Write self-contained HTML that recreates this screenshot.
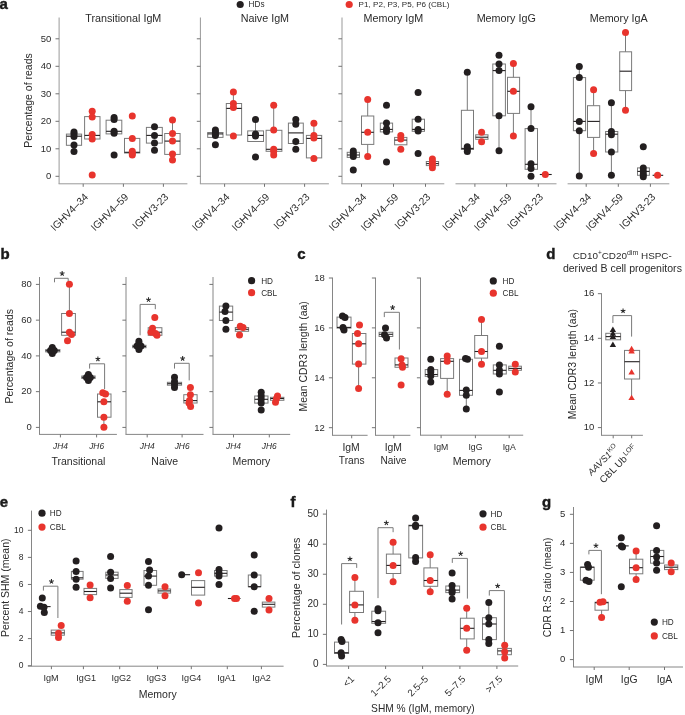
<!DOCTYPE html>
<html><head><meta charset="utf-8"><title>Figure</title>
<style>
html,body{margin:0;padding:0;background:#fff;}
body{width:685px;height:715px;overflow:hidden;}
svg{display:block;will-change:transform;}
text{font-family:"Liberation Sans", sans-serif;}
</style></head>
<body>
<svg width="685" height="715" viewBox="0 0 685 715" font-family='"Liberation Sans", sans-serif'>
<rect width="685" height="715" fill="#fff"/>
<text x="-0.6" y="8.8" font-size="15" font-weight="bold" fill="#1a1a1a" stroke="#1a1a1a" stroke-width="0.45">a</text>
<circle cx="240.2" cy="4.5" r="3.6" fill="#231f20"/>
<text x="248.60" y="7.30" font-size="8.2" text-anchor="start" fill="#2b2b2b">HDs</text>
<circle cx="349.2" cy="4.5" r="3.6" fill="#e8342d"/>
<text x="358.60" y="7.30" font-size="8.1" text-anchor="start" fill="#2b2b2b">P1, P2, P3, P5, P6 (CBL)</text>
<text x="123.30" y="21.80" font-size="10.75" text-anchor="middle" fill="#2b2b2b">Transitional IgM</text>
<text x="264.90" y="21.80" font-size="10.75" text-anchor="middle" fill="#2b2b2b">Naive IgM</text>
<text x="393.40" y="21.80" font-size="10.75" text-anchor="middle" fill="#2b2b2b">Memory IgM</text>
<text x="506.20" y="21.80" font-size="10.75" text-anchor="middle" fill="#2b2b2b">Memory IgG</text>
<text x="618.70" y="21.80" font-size="10.75" text-anchor="middle" fill="#2b2b2b">Memory IgA</text>
<line x1="59.10" y1="17.50" x2="59.10" y2="183.80" stroke="#999" stroke-width="1"/>
<line x1="55.50" y1="176.30" x2="59.10" y2="176.30" stroke="#737373" stroke-width="1"/>
<text x="51.40" y="179.10" font-size="9.5" text-anchor="end" fill="#2b2b2b">0</text>
<line x1="55.50" y1="148.80" x2="59.10" y2="148.80" stroke="#737373" stroke-width="1"/>
<text x="51.40" y="151.60" font-size="9.5" text-anchor="end" fill="#2b2b2b">10</text>
<line x1="55.50" y1="121.30" x2="59.10" y2="121.30" stroke="#737373" stroke-width="1"/>
<text x="51.40" y="124.10" font-size="9.5" text-anchor="end" fill="#2b2b2b">20</text>
<line x1="55.50" y1="93.80" x2="59.10" y2="93.80" stroke="#737373" stroke-width="1"/>
<text x="51.40" y="96.60" font-size="9.5" text-anchor="end" fill="#2b2b2b">30</text>
<line x1="55.50" y1="66.30" x2="59.10" y2="66.30" stroke="#737373" stroke-width="1"/>
<text x="51.40" y="69.10" font-size="9.5" text-anchor="end" fill="#2b2b2b">40</text>
<line x1="55.50" y1="38.80" x2="59.10" y2="38.80" stroke="#737373" stroke-width="1"/>
<text x="51.40" y="41.60" font-size="9.5" text-anchor="end" fill="#2b2b2b">50</text>
<line x1="200.40" y1="17.50" x2="200.40" y2="183.80" stroke="#999" stroke-width="1"/>
<line x1="196.80" y1="176.30" x2="200.40" y2="176.30" stroke="#737373" stroke-width="1"/>
<line x1="196.80" y1="148.80" x2="200.40" y2="148.80" stroke="#737373" stroke-width="1"/>
<line x1="196.80" y1="121.30" x2="200.40" y2="121.30" stroke="#737373" stroke-width="1"/>
<line x1="196.80" y1="93.80" x2="200.40" y2="93.80" stroke="#737373" stroke-width="1"/>
<line x1="196.80" y1="66.30" x2="200.40" y2="66.30" stroke="#737373" stroke-width="1"/>
<line x1="196.80" y1="38.80" x2="200.40" y2="38.80" stroke="#737373" stroke-width="1"/>
<line x1="342.00" y1="17.50" x2="342.00" y2="183.80" stroke="#999" stroke-width="1"/>
<line x1="338.40" y1="176.30" x2="342.00" y2="176.30" stroke="#737373" stroke-width="1"/>
<line x1="338.40" y1="148.80" x2="342.00" y2="148.80" stroke="#737373" stroke-width="1"/>
<line x1="338.40" y1="121.30" x2="342.00" y2="121.30" stroke="#737373" stroke-width="1"/>
<line x1="338.40" y1="93.80" x2="342.00" y2="93.80" stroke="#737373" stroke-width="1"/>
<line x1="338.40" y1="66.30" x2="342.00" y2="66.30" stroke="#737373" stroke-width="1"/>
<line x1="338.40" y1="38.80" x2="342.00" y2="38.80" stroke="#737373" stroke-width="1"/>
<text x="32.20" y="100.50" font-size="10.5" text-anchor="middle" transform="rotate(-90 32.20 100.50)" fill="#2b2b2b">Percentage of reads</text>
<line x1="58.60" y1="183.80" x2="187.40" y2="183.80" stroke="#999" stroke-width="1"/>
<line x1="83.20" y1="183.80" x2="83.20" y2="186.80" stroke="#737373" stroke-width="1"/>
<line x1="123.40" y1="183.80" x2="123.40" y2="186.80" stroke="#737373" stroke-width="1"/>
<line x1="163.40" y1="183.80" x2="163.40" y2="186.80" stroke="#737373" stroke-width="1"/>
<line x1="199.90" y1="183.80" x2="328.90" y2="183.80" stroke="#999" stroke-width="1"/>
<line x1="224.60" y1="183.80" x2="224.60" y2="186.80" stroke="#737373" stroke-width="1"/>
<line x1="264.50" y1="183.80" x2="264.50" y2="186.80" stroke="#737373" stroke-width="1"/>
<line x1="304.60" y1="183.80" x2="304.60" y2="186.80" stroke="#737373" stroke-width="1"/>
<line x1="341.50" y1="183.80" x2="444.30" y2="183.80" stroke="#999" stroke-width="1"/>
<line x1="361.50" y1="183.80" x2="361.50" y2="186.80" stroke="#737373" stroke-width="1"/>
<line x1="393.50" y1="183.80" x2="393.50" y2="186.80" stroke="#737373" stroke-width="1"/>
<line x1="425.50" y1="183.80" x2="425.50" y2="186.80" stroke="#737373" stroke-width="1"/>
<line x1="455.50" y1="183.80" x2="556.50" y2="183.80" stroke="#999" stroke-width="1"/>
<line x1="474.90" y1="183.80" x2="474.90" y2="186.80" stroke="#737373" stroke-width="1"/>
<line x1="506.60" y1="183.80" x2="506.60" y2="186.80" stroke="#737373" stroke-width="1"/>
<line x1="538.30" y1="183.80" x2="538.30" y2="186.80" stroke="#737373" stroke-width="1"/>
<line x1="567.60" y1="183.80" x2="669.30" y2="183.80" stroke="#999" stroke-width="1"/>
<line x1="586.20" y1="183.80" x2="586.20" y2="186.80" stroke="#737373" stroke-width="1"/>
<line x1="618.30" y1="183.80" x2="618.30" y2="186.80" stroke="#737373" stroke-width="1"/>
<line x1="650.40" y1="183.80" x2="650.40" y2="186.80" stroke="#737373" stroke-width="1"/>
<rect x="66.40" y="134.10" width="15.20" height="11.20" fill="none" stroke="#7a7a7a" stroke-width="1"/>
<line x1="66.40" y1="136.20" x2="81.60" y2="136.20" stroke="#231f20" stroke-width="1.1"/>
<circle cx="74.00" cy="131.90" r="3.5" fill="#231f20"/>
<circle cx="74.00" cy="134.00" r="3.5" fill="#231f20"/>
<circle cx="74.00" cy="136.50" r="3.5" fill="#231f20"/>
<circle cx="74.00" cy="145.00" r="3.5" fill="#231f20"/>
<circle cx="74.00" cy="151.60" r="3.5" fill="#231f20"/>
<rect x="84.60" y="116.60" width="15.40" height="22.40" fill="none" stroke="#7a7a7a" stroke-width="1"/>
<line x1="84.60" y1="135.40" x2="100.00" y2="135.40" stroke="#231f20" stroke-width="1.1"/>
<circle cx="92.20" cy="111.30" r="3.5" fill="#e8342d"/>
<circle cx="92.20" cy="117.00" r="3.5" fill="#e8342d"/>
<circle cx="92.20" cy="134.60" r="3.5" fill="#e8342d"/>
<circle cx="92.20" cy="139.00" r="3.5" fill="#e8342d"/>
<circle cx="92.20" cy="174.90" r="3.5" fill="#e8342d"/>
<rect x="106.10" y="120.20" width="15.70" height="13.70" fill="none" stroke="#7a7a7a" stroke-width="1"/>
<line x1="106.10" y1="131.30" x2="121.80" y2="131.30" stroke="#231f20" stroke-width="1.1"/>
<circle cx="114.10" cy="117.60" r="3.5" fill="#231f20"/>
<circle cx="114.10" cy="119.60" r="3.5" fill="#231f20"/>
<circle cx="114.10" cy="131.30" r="3.5" fill="#231f20"/>
<circle cx="114.10" cy="133.30" r="3.5" fill="#231f20"/>
<circle cx="114.10" cy="155.00" r="3.5" fill="#231f20"/>
<rect x="124.50" y="138.40" width="15.30" height="14.60" fill="none" stroke="#7a7a7a" stroke-width="1"/>
<line x1="124.50" y1="152.30" x2="139.80" y2="152.30" stroke="#231f20" stroke-width="1.1"/>
<circle cx="132.30" cy="116.00" r="3.5" fill="#e8342d"/>
<circle cx="132.30" cy="138.40" r="3.5" fill="#e8342d"/>
<circle cx="132.30" cy="151.30" r="3.5" fill="#e8342d"/>
<circle cx="132.30" cy="153.50" r="3.5" fill="#e8342d"/>
<circle cx="132.30" cy="155.00" r="3.5" fill="#e8342d"/>
<rect x="146.40" y="127.40" width="15.90" height="15.70" fill="none" stroke="#7a7a7a" stroke-width="1"/>
<line x1="146.40" y1="135.40" x2="162.30" y2="135.40" stroke="#231f20" stroke-width="1.1"/>
<circle cx="154.50" cy="126.80" r="3.5" fill="#231f20"/>
<circle cx="154.50" cy="135.40" r="3.5" fill="#231f20"/>
<circle cx="154.50" cy="143.10" r="3.5" fill="#231f20"/>
<circle cx="154.50" cy="150.30" r="3.5" fill="#231f20"/>
<line x1="172.50" y1="120.00" x2="172.50" y2="133.50" stroke="#7a7a7a" stroke-width="1"/>
<rect x="164.70" y="133.50" width="15.40" height="20.90" fill="none" stroke="#7a7a7a" stroke-width="1"/>
<line x1="164.70" y1="141.10" x2="180.10" y2="141.10" stroke="#231f20" stroke-width="1.1"/>
<circle cx="172.50" cy="120.00" r="3.5" fill="#e8342d"/>
<circle cx="172.50" cy="133.50" r="3.5" fill="#e8342d"/>
<circle cx="172.50" cy="141.10" r="3.5" fill="#e8342d"/>
<circle cx="172.50" cy="154.00" r="3.5" fill="#e8342d"/>
<circle cx="172.50" cy="160.10" r="3.5" fill="#e8342d"/>
<rect x="207.70" y="132.50" width="15.30" height="4.90" fill="none" stroke="#7a7a7a" stroke-width="1"/>
<line x1="207.70" y1="133.90" x2="223.00" y2="133.90" stroke="#231f20" stroke-width="1.1"/>
<circle cx="215.40" cy="129.90" r="3.5" fill="#231f20"/>
<circle cx="215.40" cy="131.90" r="3.5" fill="#231f20"/>
<circle cx="215.40" cy="133.90" r="3.5" fill="#231f20"/>
<circle cx="215.40" cy="135.40" r="3.5" fill="#231f20"/>
<circle cx="215.40" cy="144.80" r="3.5" fill="#231f20"/>
<line x1="233.40" y1="92.00" x2="233.40" y2="103.50" stroke="#7a7a7a" stroke-width="1"/>
<rect x="226.30" y="103.50" width="15.30" height="31.50" fill="none" stroke="#7a7a7a" stroke-width="1"/>
<line x1="226.30" y1="108.40" x2="241.60" y2="108.40" stroke="#231f20" stroke-width="1.1"/>
<circle cx="233.40" cy="92.00" r="3.5" fill="#e8342d"/>
<circle cx="233.40" cy="103.50" r="3.5" fill="#e8342d"/>
<circle cx="233.40" cy="107.40" r="3.5" fill="#e8342d"/>
<circle cx="233.40" cy="136.00" r="3.5" fill="#e8342d"/>
<line x1="255.50" y1="119.60" x2="255.50" y2="130.90" stroke="#7a7a7a" stroke-width="1"/>
<rect x="247.70" y="130.90" width="15.80" height="10.60" fill="none" stroke="#7a7a7a" stroke-width="1"/>
<line x1="247.70" y1="135.40" x2="263.50" y2="135.40" stroke="#231f20" stroke-width="1.1"/>
<circle cx="255.50" cy="119.60" r="3.5" fill="#231f20"/>
<circle cx="255.50" cy="133.90" r="3.5" fill="#231f20"/>
<circle cx="255.50" cy="136.00" r="3.5" fill="#231f20"/>
<circle cx="255.50" cy="157.00" r="3.5" fill="#231f20"/>
<line x1="273.70" y1="105.30" x2="273.70" y2="130.30" stroke="#7a7a7a" stroke-width="1"/>
<rect x="266.10" y="130.30" width="15.80" height="21.00" fill="none" stroke="#7a7a7a" stroke-width="1"/>
<line x1="266.10" y1="149.30" x2="281.90" y2="149.30" stroke="#231f20" stroke-width="1.1"/>
<circle cx="273.70" cy="105.30" r="3.5" fill="#e8342d"/>
<circle cx="273.70" cy="129.90" r="3.5" fill="#e8342d"/>
<circle cx="273.70" cy="149.30" r="3.5" fill="#e8342d"/>
<circle cx="273.70" cy="151.30" r="3.5" fill="#e8342d"/>
<circle cx="273.70" cy="155.00" r="3.5" fill="#e8342d"/>
<rect x="288.40" y="123.10" width="14.90" height="20.40" fill="none" stroke="#7a7a7a" stroke-width="1"/>
<line x1="288.40" y1="132.90" x2="303.30" y2="132.90" stroke="#231f20" stroke-width="1.1"/>
<circle cx="295.80" cy="119.60" r="3.5" fill="#231f20"/>
<circle cx="295.80" cy="124.30" r="3.5" fill="#231f20"/>
<circle cx="295.80" cy="141.50" r="3.5" fill="#231f20"/>
<circle cx="295.80" cy="149.30" r="3.5" fill="#231f20"/>
<line x1="313.90" y1="123.30" x2="313.90" y2="135.40" stroke="#7a7a7a" stroke-width="1"/>
<rect x="306.40" y="135.40" width="15.30" height="22.50" fill="none" stroke="#7a7a7a" stroke-width="1"/>
<line x1="306.40" y1="138.40" x2="321.70" y2="138.40" stroke="#231f20" stroke-width="1.1"/>
<circle cx="313.90" cy="123.30" r="3.5" fill="#e8342d"/>
<circle cx="313.90" cy="135.40" r="3.5" fill="#e8342d"/>
<circle cx="313.90" cy="138.00" r="3.5" fill="#e8342d"/>
<circle cx="313.90" cy="158.50" r="3.5" fill="#e8342d"/>
<rect x="347.20" y="152.30" width="12.30" height="5.10" fill="none" stroke="#7a7a7a" stroke-width="1"/>
<line x1="347.20" y1="155.00" x2="359.50" y2="155.00" stroke="#231f20" stroke-width="1.1"/>
<circle cx="353.30" cy="150.90" r="3.5" fill="#231f20"/>
<circle cx="353.30" cy="153.40" r="3.5" fill="#231f20"/>
<circle cx="353.30" cy="156.40" r="3.5" fill="#231f20"/>
<circle cx="353.30" cy="170.10" r="3.5" fill="#231f20"/>
<line x1="367.70" y1="99.60" x2="367.70" y2="116.00" stroke="#7a7a7a" stroke-width="1"/>
<line x1="367.70" y1="144.40" x2="367.70" y2="157.40" stroke="#7a7a7a" stroke-width="1"/>
<rect x="361.50" y="116.00" width="12.30" height="28.40" fill="none" stroke="#7a7a7a" stroke-width="1"/>
<line x1="361.50" y1="132.30" x2="373.80" y2="132.30" stroke="#231f20" stroke-width="1.1"/>
<circle cx="367.70" cy="99.60" r="3.5" fill="#e8342d"/>
<circle cx="367.70" cy="132.30" r="3.5" fill="#e8342d"/>
<circle cx="367.70" cy="156.40" r="3.5" fill="#e8342d"/>
<rect x="380.30" y="123.10" width="12.30" height="8.80" fill="none" stroke="#7a7a7a" stroke-width="1"/>
<line x1="380.30" y1="129.40" x2="392.60" y2="129.40" stroke="#231f20" stroke-width="1.1"/>
<circle cx="386.50" cy="105.30" r="3.5" fill="#231f20"/>
<circle cx="386.50" cy="123.10" r="3.5" fill="#231f20"/>
<circle cx="386.50" cy="128.80" r="3.5" fill="#231f20"/>
<circle cx="386.50" cy="131.50" r="3.5" fill="#231f20"/>
<circle cx="386.50" cy="161.90" r="3.5" fill="#231f20"/>
<rect x="394.60" y="137.40" width="12.30" height="7.40" fill="none" stroke="#7a7a7a" stroke-width="1"/>
<line x1="394.60" y1="140.10" x2="406.90" y2="140.10" stroke="#231f20" stroke-width="1.1"/>
<circle cx="400.80" cy="135.40" r="3.5" fill="#e8342d"/>
<circle cx="400.80" cy="139.00" r="3.5" fill="#e8342d"/>
<circle cx="400.80" cy="149.30" r="3.5" fill="#e8342d"/>
<rect x="412.20" y="119.20" width="12.30" height="12.10" fill="none" stroke="#7a7a7a" stroke-width="1"/>
<line x1="412.20" y1="129.40" x2="424.50" y2="129.40" stroke="#231f20" stroke-width="1.1"/>
<circle cx="418.10" cy="92.50" r="3.5" fill="#231f20"/>
<circle cx="418.10" cy="119.20" r="3.5" fill="#231f20"/>
<circle cx="418.10" cy="129.40" r="3.5" fill="#231f20"/>
<circle cx="418.10" cy="130.90" r="3.5" fill="#231f20"/>
<circle cx="418.10" cy="153.40" r="3.5" fill="#231f20"/>
<rect x="426.30" y="161.50" width="12.30" height="4.10" fill="none" stroke="#7a7a7a" stroke-width="1"/>
<line x1="426.30" y1="163.60" x2="438.60" y2="163.60" stroke="#231f20" stroke-width="1.1"/>
<circle cx="432.40" cy="159.10" r="3.5" fill="#e8342d"/>
<circle cx="432.40" cy="161.90" r="3.5" fill="#e8342d"/>
<circle cx="432.40" cy="164.60" r="3.5" fill="#e8342d"/>
<circle cx="432.40" cy="167.70" r="3.5" fill="#e8342d"/>
<line x1="467.30" y1="72.30" x2="467.30" y2="110.30" stroke="#7a7a7a" stroke-width="1"/>
<rect x="461.40" y="110.30" width="12.10" height="39.20" fill="none" stroke="#7a7a7a" stroke-width="1"/>
<line x1="461.40" y1="148.40" x2="473.50" y2="148.40" stroke="#231f20" stroke-width="1.1"/>
<circle cx="467.30" cy="72.30" r="3.5" fill="#231f20"/>
<circle cx="467.30" cy="146.70" r="3.5" fill="#231f20"/>
<circle cx="467.30" cy="149.10" r="3.5" fill="#231f20"/>
<circle cx="467.30" cy="151.40" r="3.5" fill="#231f20"/>
<rect x="475.70" y="134.80" width="12.30" height="4.50" fill="none" stroke="#7a7a7a" stroke-width="1"/>
<line x1="475.70" y1="137.20" x2="488.00" y2="137.20" stroke="#231f20" stroke-width="1.1"/>
<circle cx="481.60" cy="132.20" r="3.5" fill="#e8342d"/>
<circle cx="481.60" cy="141.70" r="3.5" fill="#e8342d"/>
<line x1="499.00" y1="115.80" x2="499.00" y2="150.70" stroke="#7a7a7a" stroke-width="1"/>
<rect x="492.80" y="64.00" width="12.60" height="51.80" fill="none" stroke="#7a7a7a" stroke-width="1"/>
<line x1="492.80" y1="70.60" x2="505.40" y2="70.60" stroke="#231f20" stroke-width="1.1"/>
<circle cx="499.00" cy="55.20" r="3.5" fill="#231f20"/>
<circle cx="499.00" cy="64.00" r="3.5" fill="#231f20"/>
<circle cx="499.00" cy="70.60" r="3.5" fill="#231f20"/>
<circle cx="499.00" cy="115.80" r="3.5" fill="#231f20"/>
<circle cx="499.00" cy="150.70" r="3.5" fill="#231f20"/>
<line x1="513.40" y1="63.50" x2="513.40" y2="77.30" stroke="#7a7a7a" stroke-width="1"/>
<line x1="513.40" y1="113.40" x2="513.40" y2="136.00" stroke="#7a7a7a" stroke-width="1"/>
<rect x="507.50" y="77.30" width="12.10" height="36.10" fill="none" stroke="#7a7a7a" stroke-width="1"/>
<line x1="507.50" y1="91.30" x2="519.60" y2="91.30" stroke="#231f20" stroke-width="1.1"/>
<circle cx="513.40" cy="63.50" r="3.5" fill="#e8342d"/>
<circle cx="513.40" cy="91.30" r="3.5" fill="#e8342d"/>
<circle cx="513.40" cy="136.00" r="3.5" fill="#e8342d"/>
<line x1="531.00" y1="106.80" x2="531.00" y2="128.60" stroke="#7a7a7a" stroke-width="1"/>
<rect x="525.10" y="128.60" width="12.40" height="40.70" fill="none" stroke="#7a7a7a" stroke-width="1"/>
<line x1="525.10" y1="164.30" x2="537.50" y2="164.30" stroke="#231f20" stroke-width="1.1"/>
<circle cx="531.00" cy="106.80" r="3.5" fill="#231f20"/>
<circle cx="531.00" cy="128.60" r="3.5" fill="#231f20"/>
<circle cx="531.00" cy="163.80" r="3.5" fill="#231f20"/>
<circle cx="531.00" cy="168.60" r="3.5" fill="#231f20"/>
<circle cx="531.00" cy="176.20" r="3.5" fill="#231f20"/>
<line x1="539.80" y1="174.50" x2="551.70" y2="174.50" stroke="#231f20" stroke-width="1.1"/>
<circle cx="545.30" cy="174.50" r="3.5" fill="#e8342d"/>
<line x1="579.30" y1="66.40" x2="579.30" y2="77.60" stroke="#7a7a7a" stroke-width="1"/>
<line x1="579.30" y1="130.70" x2="579.30" y2="175.90" stroke="#7a7a7a" stroke-width="1"/>
<rect x="573.40" y="77.60" width="12.20" height="53.10" fill="none" stroke="#7a7a7a" stroke-width="1"/>
<line x1="573.40" y1="121.40" x2="585.60" y2="121.40" stroke="#231f20" stroke-width="1.1"/>
<circle cx="579.30" cy="66.40" r="3.5" fill="#231f20"/>
<circle cx="579.30" cy="77.60" r="3.5" fill="#231f20"/>
<circle cx="579.30" cy="121.40" r="3.5" fill="#231f20"/>
<circle cx="579.30" cy="130.70" r="3.5" fill="#231f20"/>
<circle cx="579.30" cy="175.90" r="3.5" fill="#231f20"/>
<line x1="593.60" y1="89.80" x2="593.60" y2="105.70" stroke="#7a7a7a" stroke-width="1"/>
<line x1="593.60" y1="137.40" x2="593.60" y2="153.60" stroke="#7a7a7a" stroke-width="1"/>
<rect x="587.50" y="105.70" width="12.20" height="31.70" fill="none" stroke="#7a7a7a" stroke-width="1"/>
<line x1="587.50" y1="121.40" x2="599.70" y2="121.40" stroke="#231f20" stroke-width="1.1"/>
<circle cx="593.60" cy="89.80" r="3.5" fill="#e8342d"/>
<circle cx="593.60" cy="153.60" r="3.5" fill="#e8342d"/>
<line x1="611.40" y1="102.80" x2="611.40" y2="131.50" stroke="#7a7a7a" stroke-width="1"/>
<line x1="611.40" y1="152.00" x2="611.40" y2="175.30" stroke="#7a7a7a" stroke-width="1"/>
<rect x="605.60" y="131.50" width="12.20" height="20.50" fill="none" stroke="#7a7a7a" stroke-width="1"/>
<line x1="605.60" y1="134.20" x2="617.80" y2="134.20" stroke="#231f20" stroke-width="1.1"/>
<circle cx="611.40" cy="102.80" r="3.5" fill="#231f20"/>
<circle cx="611.40" cy="131.50" r="3.5" fill="#231f20"/>
<circle cx="611.40" cy="134.70" r="3.5" fill="#231f20"/>
<circle cx="611.40" cy="152.00" r="3.5" fill="#231f20"/>
<circle cx="611.40" cy="175.30" r="3.5" fill="#231f20"/>
<line x1="625.50" y1="32.40" x2="625.50" y2="51.80" stroke="#7a7a7a" stroke-width="1"/>
<line x1="625.50" y1="90.60" x2="625.50" y2="110.30" stroke="#7a7a7a" stroke-width="1"/>
<rect x="619.70" y="51.80" width="11.90" height="38.80" fill="none" stroke="#7a7a7a" stroke-width="1"/>
<line x1="619.70" y1="71.20" x2="631.60" y2="71.20" stroke="#231f20" stroke-width="1.1"/>
<circle cx="625.50" cy="32.40" r="3.5" fill="#e8342d"/>
<circle cx="625.50" cy="110.30" r="3.5" fill="#e8342d"/>
<rect x="637.50" y="167.90" width="11.90" height="7.40" fill="none" stroke="#7a7a7a" stroke-width="1"/>
<line x1="637.50" y1="171.40" x2="649.40" y2="171.40" stroke="#231f20" stroke-width="1.1"/>
<circle cx="643.30" cy="146.70" r="3.5" fill="#231f20"/>
<circle cx="643.30" cy="167.90" r="3.5" fill="#231f20"/>
<circle cx="643.30" cy="171.40" r="3.5" fill="#231f20"/>
<circle cx="643.30" cy="174.50" r="3.5" fill="#231f20"/>
<circle cx="643.30" cy="176.70" r="3.5" fill="#231f20"/>
<line x1="652.60" y1="175.30" x2="663.20" y2="175.30" stroke="#231f20" stroke-width="1.1"/>
<circle cx="657.60" cy="175.30" r="3.5" fill="#e8342d"/>
<text x="88.80" y="197.60" font-size="10.3" text-anchor="end" transform="rotate(-45 88.80 197.60)" fill="#2b2b2b">IGHV4–34</text>
<text x="129.00" y="197.60" font-size="10.3" text-anchor="end" transform="rotate(-45 129.00 197.60)" fill="#2b2b2b">IGHV4–59</text>
<text x="169.00" y="197.60" font-size="10.3" text-anchor="end" transform="rotate(-45 169.00 197.60)" fill="#2b2b2b">IGHV3-23</text>
<text x="230.20" y="197.60" font-size="10.3" text-anchor="end" transform="rotate(-45 230.20 197.60)" fill="#2b2b2b">IGHV4–34</text>
<text x="270.10" y="197.60" font-size="10.3" text-anchor="end" transform="rotate(-45 270.10 197.60)" fill="#2b2b2b">IGHV4–59</text>
<text x="310.20" y="197.60" font-size="10.3" text-anchor="end" transform="rotate(-45 310.20 197.60)" fill="#2b2b2b">IGHV3-23</text>
<text x="367.10" y="197.60" font-size="10.3" text-anchor="end" transform="rotate(-45 367.10 197.60)" fill="#2b2b2b">IGHV4–34</text>
<text x="399.10" y="197.60" font-size="10.3" text-anchor="end" transform="rotate(-45 399.10 197.60)" fill="#2b2b2b">IGHV4–59</text>
<text x="431.10" y="197.60" font-size="10.3" text-anchor="end" transform="rotate(-45 431.10 197.60)" fill="#2b2b2b">IGHV3-23</text>
<text x="480.50" y="197.60" font-size="10.3" text-anchor="end" transform="rotate(-45 480.50 197.60)" fill="#2b2b2b">IGHV4–34</text>
<text x="512.20" y="197.60" font-size="10.3" text-anchor="end" transform="rotate(-45 512.20 197.60)" fill="#2b2b2b">IGHV4–59</text>
<text x="543.90" y="197.60" font-size="10.3" text-anchor="end" transform="rotate(-45 543.90 197.60)" fill="#2b2b2b">IGHV3-23</text>
<text x="591.80" y="197.60" font-size="10.3" text-anchor="end" transform="rotate(-45 591.80 197.60)" fill="#2b2b2b">IGHV4–34</text>
<text x="623.90" y="197.60" font-size="10.3" text-anchor="end" transform="rotate(-45 623.90 197.60)" fill="#2b2b2b">IGHV4–59</text>
<text x="656.00" y="197.60" font-size="10.3" text-anchor="end" transform="rotate(-45 656.00 197.60)" fill="#2b2b2b">IGHV3-23</text>
<text x="0.4" y="258.6" font-size="15" font-weight="bold" fill="#1a1a1a" stroke="#1a1a1a" stroke-width="0.45">b</text>
<line x1="39.50" y1="277.00" x2="39.50" y2="434.40" stroke="#868686" stroke-width="1"/>
<line x1="35.90" y1="427.40" x2="39.50" y2="427.40" stroke="#737373" stroke-width="1"/>
<text x="31.80" y="430.20" font-size="9.5" text-anchor="end" fill="#2b2b2b">0</text>
<line x1="35.90" y1="391.65" x2="39.50" y2="391.65" stroke="#737373" stroke-width="1"/>
<text x="31.80" y="394.45" font-size="9.5" text-anchor="end" fill="#2b2b2b">20</text>
<line x1="35.90" y1="355.90" x2="39.50" y2="355.90" stroke="#737373" stroke-width="1"/>
<text x="31.80" y="358.70" font-size="9.5" text-anchor="end" fill="#2b2b2b">40</text>
<line x1="35.90" y1="320.15" x2="39.50" y2="320.15" stroke="#737373" stroke-width="1"/>
<text x="31.80" y="322.95" font-size="9.5" text-anchor="end" fill="#2b2b2b">60</text>
<line x1="35.90" y1="284.40" x2="39.50" y2="284.40" stroke="#737373" stroke-width="1"/>
<text x="31.80" y="287.20" font-size="9.5" text-anchor="end" fill="#2b2b2b">80</text>
<line x1="126.00" y1="277.00" x2="126.00" y2="434.40" stroke="#868686" stroke-width="1"/>
<line x1="122.40" y1="427.40" x2="126.00" y2="427.40" stroke="#737373" stroke-width="1"/>
<line x1="122.40" y1="391.65" x2="126.00" y2="391.65" stroke="#737373" stroke-width="1"/>
<line x1="122.40" y1="355.90" x2="126.00" y2="355.90" stroke="#737373" stroke-width="1"/>
<line x1="122.40" y1="320.15" x2="126.00" y2="320.15" stroke="#737373" stroke-width="1"/>
<line x1="122.40" y1="284.40" x2="126.00" y2="284.40" stroke="#737373" stroke-width="1"/>
<line x1="213.00" y1="277.00" x2="213.00" y2="434.40" stroke="#868686" stroke-width="1"/>
<line x1="209.40" y1="427.40" x2="213.00" y2="427.40" stroke="#737373" stroke-width="1"/>
<line x1="209.40" y1="391.65" x2="213.00" y2="391.65" stroke="#737373" stroke-width="1"/>
<line x1="209.40" y1="355.90" x2="213.00" y2="355.90" stroke="#737373" stroke-width="1"/>
<line x1="209.40" y1="320.15" x2="213.00" y2="320.15" stroke="#737373" stroke-width="1"/>
<line x1="209.40" y1="284.40" x2="213.00" y2="284.40" stroke="#737373" stroke-width="1"/>
<text x="12.60" y="356.30" font-size="10.5" text-anchor="middle" transform="rotate(-90 12.60 356.30)" fill="#2b2b2b">Percentage of reads</text>
<line x1="39.00" y1="434.40" x2="116.90" y2="434.40" stroke="#868686" stroke-width="1"/>
<line x1="60.40" y1="434.40" x2="60.40" y2="437.40" stroke="#737373" stroke-width="1"/>
<line x1="96.60" y1="434.40" x2="96.60" y2="437.40" stroke="#737373" stroke-width="1"/>
<line x1="125.50" y1="434.40" x2="203.50" y2="434.40" stroke="#868686" stroke-width="1"/>
<line x1="147.20" y1="434.40" x2="147.20" y2="437.40" stroke="#737373" stroke-width="1"/>
<line x1="182.10" y1="434.40" x2="182.10" y2="437.40" stroke="#737373" stroke-width="1"/>
<line x1="212.50" y1="434.40" x2="290.20" y2="434.40" stroke="#868686" stroke-width="1"/>
<line x1="233.50" y1="434.40" x2="233.50" y2="437.40" stroke="#737373" stroke-width="1"/>
<line x1="269.30" y1="434.40" x2="269.30" y2="437.40" stroke="#737373" stroke-width="1"/>
<rect x="45.70" y="349.60" width="14.20" height="2.30" fill="none" stroke="#7a7a7a" stroke-width="1"/>
<line x1="45.70" y1="350.70" x2="59.90" y2="350.70" stroke="#231f20" stroke-width="1.1"/>
<circle cx="52.30" cy="347.50" r="3.5" fill="#231f20"/>
<circle cx="52.30" cy="349.50" r="3.5" fill="#231f20"/>
<circle cx="52.30" cy="351.50" r="3.5" fill="#231f20"/>
<circle cx="52.30" cy="353.50" r="3.5" fill="#231f20"/>
<circle cx="50.50" cy="350.50" r="3.5" fill="#231f20"/>
<circle cx="54.30" cy="350.50" r="3.5" fill="#231f20"/>
<line x1="69.40" y1="284.20" x2="69.40" y2="313.50" stroke="#7a7a7a" stroke-width="1"/>
<rect x="61.60" y="313.50" width="13.80" height="21.80" fill="none" stroke="#7a7a7a" stroke-width="1"/>
<line x1="61.60" y1="332.20" x2="75.40" y2="332.20" stroke="#231f20" stroke-width="1.1"/>
<circle cx="69.40" cy="284.20" r="3.5" fill="#e8342d"/>
<circle cx="69.40" cy="313.50" r="3.5" fill="#e8342d"/>
<circle cx="69.40" cy="332.20" r="3.5" fill="#e8342d"/>
<circle cx="71.50" cy="334.60" r="3.5" fill="#e8342d"/>
<circle cx="67.50" cy="340.80" r="3.5" fill="#e8342d"/>
<rect x="81.80" y="376.00" width="13.30" height="2.50" fill="none" stroke="#7a7a7a" stroke-width="1"/>
<line x1="81.80" y1="377.30" x2="95.10" y2="377.30" stroke="#231f20" stroke-width="1.1"/>
<circle cx="88.40" cy="374.50" r="3.5" fill="#231f20"/>
<circle cx="88.40" cy="376.50" r="3.5" fill="#231f20"/>
<circle cx="88.40" cy="378.50" r="3.5" fill="#231f20"/>
<circle cx="88.40" cy="380.50" r="3.5" fill="#231f20"/>
<circle cx="86.50" cy="377.50" r="3.5" fill="#231f20"/>
<circle cx="90.30" cy="377.50" r="3.5" fill="#231f20"/>
<line x1="103.90" y1="417.20" x2="103.90" y2="427.20" stroke="#7a7a7a" stroke-width="1"/>
<rect x="97.50" y="394.00" width="13.50" height="23.20" fill="none" stroke="#7a7a7a" stroke-width="1"/>
<line x1="97.50" y1="401.80" x2="111.00" y2="401.80" stroke="#231f20" stroke-width="1.1"/>
<circle cx="102.80" cy="392.80" r="3.5" fill="#e8342d"/>
<circle cx="105.50" cy="394.00" r="3.5" fill="#e8342d"/>
<circle cx="103.90" cy="401.80" r="3.5" fill="#e8342d"/>
<circle cx="103.90" cy="417.20" r="3.5" fill="#e8342d"/>
<circle cx="103.90" cy="427.20" r="3.5" fill="#e8342d"/>
<rect x="132.70" y="345.30" width="13.30" height="2.40" fill="none" stroke="#7a7a7a" stroke-width="1"/>
<line x1="132.70" y1="346.50" x2="146.00" y2="346.50" stroke="#231f20" stroke-width="1.1"/>
<circle cx="138.90" cy="341.20" r="3.5" fill="#231f20"/>
<circle cx="138.90" cy="344.10" r="3.5" fill="#231f20"/>
<circle cx="138.90" cy="347.20" r="3.5" fill="#231f20"/>
<circle cx="138.90" cy="349.60" r="3.5" fill="#231f20"/>
<circle cx="137.00" cy="346.00" r="3.5" fill="#231f20"/>
<circle cx="141.00" cy="346.00" r="3.5" fill="#231f20"/>
<rect x="148.20" y="327.70" width="13.70" height="7.60" fill="none" stroke="#7a7a7a" stroke-width="1"/>
<line x1="148.20" y1="332.20" x2="161.90" y2="332.20" stroke="#231f20" stroke-width="1.1"/>
<circle cx="154.80" cy="317.50" r="3.5" fill="#e8342d"/>
<circle cx="152.50" cy="328.20" r="3.5" fill="#e8342d"/>
<circle cx="151.00" cy="332.20" r="3.5" fill="#e8342d"/>
<circle cx="155.50" cy="333.50" r="3.5" fill="#e8342d"/>
<circle cx="157.00" cy="335.30" r="3.5" fill="#e8342d"/>
<rect x="167.40" y="382.30" width="14.20" height="2.90" fill="none" stroke="#7a7a7a" stroke-width="1"/>
<line x1="167.40" y1="383.70" x2="181.60" y2="383.70" stroke="#231f20" stroke-width="1.1"/>
<circle cx="174.50" cy="377.30" r="3.5" fill="#231f20"/>
<circle cx="174.50" cy="381.60" r="3.5" fill="#231f20"/>
<circle cx="174.50" cy="384.50" r="3.5" fill="#231f20"/>
<circle cx="174.50" cy="387.50" r="3.5" fill="#231f20"/>
<rect x="183.80" y="394.70" width="13.30" height="8.30" fill="none" stroke="#7a7a7a" stroke-width="1"/>
<line x1="183.80" y1="400.60" x2="197.10" y2="400.60" stroke="#231f20" stroke-width="1.1"/>
<circle cx="190.40" cy="387.50" r="3.5" fill="#e8342d"/>
<circle cx="190.40" cy="394.70" r="3.5" fill="#e8342d"/>
<circle cx="189.50" cy="400.60" r="3.5" fill="#e8342d"/>
<circle cx="189.00" cy="403.00" r="3.5" fill="#e8342d"/>
<circle cx="190.60" cy="406.50" r="3.5" fill="#e8342d"/>
<rect x="219.40" y="306.10" width="13.30" height="14.40" fill="none" stroke="#7a7a7a" stroke-width="1"/>
<line x1="219.40" y1="312.10" x2="232.70" y2="312.10" stroke="#231f20" stroke-width="1.1"/>
<circle cx="225.90" cy="306.10" r="3.5" fill="#231f20"/>
<circle cx="225.00" cy="311.60" r="3.5" fill="#231f20"/>
<circle cx="225.90" cy="320.50" r="3.5" fill="#231f20"/>
<circle cx="225.90" cy="329.30" r="3.5" fill="#231f20"/>
<rect x="235.30" y="327.50" width="13.30" height="3.80" fill="none" stroke="#7a7a7a" stroke-width="1"/>
<line x1="235.30" y1="329.30" x2="248.60" y2="329.30" stroke="#231f20" stroke-width="1.1"/>
<circle cx="240.30" cy="326.20" r="3.5" fill="#e8342d"/>
<circle cx="243.00" cy="327.50" r="3.5" fill="#e8342d"/>
<circle cx="239.50" cy="335.10" r="3.5" fill="#e8342d"/>
<rect x="254.70" y="396.00" width="13.30" height="7.10" fill="none" stroke="#7a7a7a" stroke-width="1"/>
<line x1="254.70" y1="399.30" x2="268.00" y2="399.30" stroke="#231f20" stroke-width="1.1"/>
<circle cx="261.20" cy="392.20" r="3.5" fill="#231f20"/>
<circle cx="261.20" cy="396.00" r="3.5" fill="#231f20"/>
<circle cx="261.20" cy="399.30" r="3.5" fill="#231f20"/>
<circle cx="261.20" cy="403.10" r="3.5" fill="#231f20"/>
<circle cx="261.20" cy="409.90" r="3.5" fill="#231f20"/>
<rect x="270.50" y="397.30" width="13.40" height="3.00" fill="none" stroke="#7a7a7a" stroke-width="1"/>
<line x1="270.50" y1="398.50" x2="283.90" y2="398.50" stroke="#231f20" stroke-width="1.1"/>
<circle cx="277.50" cy="396.00" r="3.5" fill="#e8342d"/>
<circle cx="276.50" cy="398.50" r="3.5" fill="#e8342d"/>
<circle cx="275.50" cy="402.30" r="3.5" fill="#e8342d"/>
<path d="M54.50 282.30 L54.50 278.30 L68.20 278.30 L68.20 281.00" fill="none" stroke="#7a7a7a" stroke-width="1"/>
<path d="M62.15 273.60 L62.15 271.10 M62.15 273.60 L64.53 272.83 M62.15 273.60 L63.62 275.62 M62.15 273.60 L60.68 275.62 M62.15 273.60 L59.77 272.83 " stroke="#2b2b2b" stroke-width="1.05" stroke-linecap="butt" fill="none"/>
<path d="M89.60 368.60 L89.60 363.80 L104.60 363.80 L104.60 389.00" fill="none" stroke="#7a7a7a" stroke-width="1"/>
<path d="M97.90 359.10 L97.90 356.60 M97.90 359.10 L100.28 358.33 M97.90 359.10 L99.37 361.12 M97.90 359.10 L96.43 361.12 M97.90 359.10 L95.52 358.33 " stroke="#2b2b2b" stroke-width="1.05" stroke-linecap="butt" fill="none"/>
<path d="M140.10 335.30 L140.10 304.40 L155.30 304.40 L155.30 309.20" fill="none" stroke="#7a7a7a" stroke-width="1"/>
<path d="M148.50 299.70 L148.50 297.20 M148.50 299.70 L150.88 298.93 M148.50 299.70 L149.97 301.72 M148.50 299.70 L147.03 301.72 M148.50 299.70 L146.12 298.93 " stroke="#2b2b2b" stroke-width="1.05" stroke-linecap="butt" fill="none"/>
<path d="M174.50 368.60 L174.50 363.30 L189.20 363.30 L189.20 380.40" fill="none" stroke="#7a7a7a" stroke-width="1"/>
<path d="M182.65 358.60 L182.65 356.10 M182.65 358.60 L185.03 357.83 M182.65 358.60 L184.12 360.62 M182.65 358.60 L181.18 360.62 M182.65 358.60 L180.27 357.83 " stroke="#2b2b2b" stroke-width="1.05" stroke-linecap="butt" fill="none"/>
<circle cx="251.6" cy="280.7" r="3.6" fill="#231f20"/>
<circle cx="251.6" cy="292.7" r="3.6" fill="#e8342d"/>
<text x="261.20" y="283.65" font-size="8.2" text-anchor="start" fill="#2b2b2b">HD</text>
<text x="261.20" y="295.65" font-size="8.2" text-anchor="start" fill="#2b2b2b">CBL</text>
<text x="60.40" y="449.40" font-size="8.4" text-anchor="middle" font-style="italic" fill="#2b2b2b">JH4</text>
<text x="147.20" y="449.40" font-size="8.4" text-anchor="middle" font-style="italic" fill="#2b2b2b">JH4</text>
<text x="233.50" y="449.40" font-size="8.4" text-anchor="middle" font-style="italic" fill="#2b2b2b">JH4</text>
<text x="96.60" y="449.40" font-size="8.4" text-anchor="middle" font-style="italic" fill="#2b2b2b">JH6</text>
<text x="182.10" y="449.40" font-size="8.4" text-anchor="middle" font-style="italic" fill="#2b2b2b">JH6</text>
<text x="269.30" y="449.40" font-size="8.4" text-anchor="middle" font-style="italic" fill="#2b2b2b">JH6</text>
<text x="78.40" y="465.00" font-size="10.5" text-anchor="middle" fill="#2b2b2b">Transitional</text>
<text x="164.80" y="465.00" font-size="10.5" text-anchor="middle" fill="#2b2b2b">Naive</text>
<text x="251.40" y="465.00" font-size="10.5" text-anchor="middle" fill="#2b2b2b">Memory</text>
<text x="297.2" y="258.8" font-size="15" font-weight="bold" fill="#1a1a1a" stroke="#1a1a1a" stroke-width="0.45">c</text>
<line x1="332.50" y1="277.60" x2="332.50" y2="435.30" stroke="#868686" stroke-width="1"/>
<line x1="328.90" y1="427.70" x2="332.50" y2="427.70" stroke="#737373" stroke-width="1"/>
<text x="324.90" y="430.50" font-size="9.5" text-anchor="end" fill="#2b2b2b">12</text>
<line x1="328.90" y1="377.80" x2="332.50" y2="377.80" stroke="#737373" stroke-width="1"/>
<text x="324.90" y="380.60" font-size="9.5" text-anchor="end" fill="#2b2b2b">14</text>
<line x1="328.90" y1="327.90" x2="332.50" y2="327.90" stroke="#737373" stroke-width="1"/>
<text x="324.90" y="330.70" font-size="9.5" text-anchor="end" fill="#2b2b2b">16</text>
<line x1="328.90" y1="278.00" x2="332.50" y2="278.00" stroke="#737373" stroke-width="1"/>
<text x="324.90" y="280.80" font-size="9.5" text-anchor="end" fill="#2b2b2b">18</text>
<line x1="375.50" y1="277.60" x2="375.50" y2="435.30" stroke="#868686" stroke-width="1"/>
<line x1="371.90" y1="427.70" x2="375.50" y2="427.70" stroke="#737373" stroke-width="1"/>
<line x1="371.90" y1="377.80" x2="375.50" y2="377.80" stroke="#737373" stroke-width="1"/>
<line x1="371.90" y1="327.90" x2="375.50" y2="327.90" stroke="#737373" stroke-width="1"/>
<line x1="371.90" y1="278.00" x2="375.50" y2="278.00" stroke="#737373" stroke-width="1"/>
<line x1="420.50" y1="277.60" x2="420.50" y2="435.30" stroke="#868686" stroke-width="1"/>
<line x1="416.90" y1="427.70" x2="420.50" y2="427.70" stroke="#737373" stroke-width="1"/>
<line x1="416.90" y1="377.80" x2="420.50" y2="377.80" stroke="#737373" stroke-width="1"/>
<line x1="416.90" y1="327.90" x2="420.50" y2="327.90" stroke="#737373" stroke-width="1"/>
<line x1="416.90" y1="278.00" x2="420.50" y2="278.00" stroke="#737373" stroke-width="1"/>
<text x="306.60" y="356.30" font-size="10.45" text-anchor="middle" transform="rotate(-90 306.60 356.30)" fill="#2b2b2b">Mean CDR3 length (aa)</text>
<line x1="332.00" y1="435.30" x2="367.60" y2="435.30" stroke="#868686" stroke-width="1"/>
<line x1="351.70" y1="435.30" x2="351.70" y2="438.30" stroke="#737373" stroke-width="1"/>
<line x1="375.00" y1="435.30" x2="410.40" y2="435.30" stroke="#868686" stroke-width="1"/>
<line x1="393.80" y1="435.30" x2="393.80" y2="438.30" stroke="#737373" stroke-width="1"/>
<line x1="420.00" y1="435.20" x2="523.20" y2="435.20" stroke="#868686" stroke-width="1"/>
<line x1="441.10" y1="435.20" x2="441.10" y2="438.20" stroke="#737373" stroke-width="1"/>
<line x1="475.40" y1="435.20" x2="475.40" y2="438.20" stroke="#737373" stroke-width="1"/>
<line x1="509.20" y1="435.20" x2="509.20" y2="438.20" stroke="#737373" stroke-width="1"/>
<rect x="337.00" y="317.10" width="14.00" height="11.00" fill="none" stroke="#7a7a7a" stroke-width="1"/>
<line x1="337.00" y1="327.40" x2="351.00" y2="327.40" stroke="#231f20" stroke-width="1.1"/>
<circle cx="342.50" cy="315.90" r="3.5" fill="#231f20"/>
<circle cx="345.00" cy="317.60" r="3.5" fill="#231f20"/>
<circle cx="343.00" cy="327.40" r="3.5" fill="#231f20"/>
<circle cx="344.00" cy="329.90" r="3.5" fill="#231f20"/>
<line x1="358.60" y1="364.10" x2="358.60" y2="388.60" stroke="#7a7a7a" stroke-width="1"/>
<rect x="352.40" y="333.50" width="13.50" height="30.60" fill="none" stroke="#7a7a7a" stroke-width="1"/>
<line x1="352.40" y1="343.80" x2="365.90" y2="343.80" stroke="#231f20" stroke-width="1.1"/>
<circle cx="359.50" cy="325.00" r="3.5" fill="#e8342d"/>
<circle cx="357.50" cy="333.50" r="3.5" fill="#e8342d"/>
<circle cx="358.60" cy="343.80" r="3.5" fill="#e8342d"/>
<circle cx="358.60" cy="364.10" r="3.5" fill="#e8342d"/>
<circle cx="358.60" cy="388.60" r="3.5" fill="#e8342d"/>
<rect x="379.10" y="332.30" width="13.70" height="4.20" fill="none" stroke="#7a7a7a" stroke-width="1"/>
<line x1="379.10" y1="334.30" x2="392.80" y2="334.30" stroke="#231f20" stroke-width="1.1"/>
<circle cx="385.50" cy="328.10" r="3.5" fill="#231f20"/>
<circle cx="384.50" cy="334.80" r="3.5" fill="#231f20"/>
<circle cx="386.50" cy="337.90" r="3.5" fill="#231f20"/>
<rect x="395.00" y="358.00" width="13.00" height="9.30" fill="none" stroke="#7a7a7a" stroke-width="1"/>
<line x1="395.00" y1="364.90" x2="408.00" y2="364.90" stroke="#231f20" stroke-width="1.1"/>
<circle cx="401.10" cy="358.70" r="3.5" fill="#e8342d"/>
<circle cx="402.00" cy="364.90" r="3.5" fill="#e8342d"/>
<circle cx="402.50" cy="367.30" r="3.5" fill="#e8342d"/>
<circle cx="401.10" cy="384.90" r="3.5" fill="#e8342d"/>
<rect x="425.20" y="369.60" width="12.50" height="6.80" fill="none" stroke="#7a7a7a" stroke-width="1"/>
<line x1="425.20" y1="374.50" x2="437.70" y2="374.50" stroke="#231f20" stroke-width="1.1"/>
<circle cx="430.80" cy="359.30" r="3.5" fill="#231f20"/>
<circle cx="430.80" cy="369.60" r="3.5" fill="#231f20"/>
<circle cx="430.80" cy="372.00" r="3.5" fill="#231f20"/>
<circle cx="430.80" cy="375.70" r="3.5" fill="#231f20"/>
<circle cx="430.80" cy="382.10" r="3.5" fill="#231f20"/>
<line x1="447.20" y1="378.40" x2="447.20" y2="394.30" stroke="#7a7a7a" stroke-width="1"/>
<rect x="440.60" y="358.60" width="13.00" height="19.80" fill="none" stroke="#7a7a7a" stroke-width="1"/>
<line x1="440.60" y1="361.30" x2="453.60" y2="361.30" stroke="#231f20" stroke-width="1.1"/>
<circle cx="447.20" cy="356.10" r="3.5" fill="#e8342d"/>
<circle cx="447.20" cy="361.30" r="3.5" fill="#e8342d"/>
<circle cx="447.20" cy="394.30" r="3.5" fill="#e8342d"/>
<line x1="466.30" y1="395.30" x2="466.30" y2="409.00" stroke="#7a7a7a" stroke-width="1"/>
<rect x="459.50" y="359.30" width="13.00" height="36.00" fill="none" stroke="#7a7a7a" stroke-width="1"/>
<line x1="459.50" y1="390.40" x2="472.50" y2="390.40" stroke="#231f20" stroke-width="1.1"/>
<circle cx="465.50" cy="358.60" r="3.5" fill="#231f20"/>
<circle cx="467.50" cy="359.30" r="3.5" fill="#231f20"/>
<circle cx="466.30" cy="389.90" r="3.5" fill="#231f20"/>
<circle cx="466.30" cy="395.30" r="3.5" fill="#231f20"/>
<circle cx="466.30" cy="409.00" r="3.5" fill="#231f20"/>
<line x1="481.50" y1="319.40" x2="481.50" y2="335.50" stroke="#7a7a7a" stroke-width="1"/>
<line x1="481.50" y1="358.10" x2="481.50" y2="364.20" stroke="#7a7a7a" stroke-width="1"/>
<rect x="474.70" y="335.50" width="12.90" height="22.60" fill="none" stroke="#7a7a7a" stroke-width="1"/>
<line x1="474.70" y1="351.50" x2="487.60" y2="351.50" stroke="#231f20" stroke-width="1.1"/>
<circle cx="481.50" cy="319.40" r="3.5" fill="#e8342d"/>
<circle cx="481.50" cy="351.50" r="3.5" fill="#e8342d"/>
<circle cx="481.50" cy="364.20" r="3.5" fill="#e8342d"/>
<rect x="493.30" y="364.90" width="13.00" height="9.10" fill="none" stroke="#7a7a7a" stroke-width="1"/>
<line x1="493.30" y1="370.30" x2="506.30" y2="370.30" stroke="#231f20" stroke-width="1.1"/>
<circle cx="499.40" cy="346.30" r="3.5" fill="#231f20"/>
<circle cx="499.40" cy="364.90" r="3.5" fill="#231f20"/>
<circle cx="499.40" cy="370.30" r="3.5" fill="#231f20"/>
<circle cx="499.40" cy="374.00" r="3.5" fill="#231f20"/>
<circle cx="499.40" cy="391.90" r="3.5" fill="#231f20"/>
<rect x="508.70" y="366.20" width="12.70" height="4.10" fill="none" stroke="#7a7a7a" stroke-width="1"/>
<line x1="508.70" y1="368.40" x2="521.40" y2="368.40" stroke="#231f20" stroke-width="1.1"/>
<circle cx="515.30" cy="364.20" r="3.5" fill="#e8342d"/>
<circle cx="515.30" cy="372.00" r="3.5" fill="#e8342d"/>
<path d="M384.30 317.10 L384.30 312.30 L399.40 312.30 L399.40 349.50" fill="none" stroke="#7a7a7a" stroke-width="1"/>
<path d="M392.65 307.60 L392.65 305.10 M392.65 307.60 L395.03 306.83 M392.65 307.60 L394.12 309.62 M392.65 307.60 L391.18 309.62 M392.65 307.60 L390.27 306.83 " stroke="#2b2b2b" stroke-width="1.05" stroke-linecap="butt" fill="none"/>
<circle cx="493.3" cy="280.9" r="3.6" fill="#231f20"/>
<circle cx="493.3" cy="293.2" r="3.6" fill="#e8342d"/>
<text x="502.60" y="283.85" font-size="8.2" text-anchor="start" fill="#2b2b2b">HD</text>
<text x="502.60" y="296.15" font-size="8.2" text-anchor="start" fill="#2b2b2b">CBL</text>
<text x="351.10" y="451.30" font-size="10.4" text-anchor="middle" fill="#2b2b2b">IgM</text>
<text x="351.70" y="463.50" font-size="10.2" text-anchor="middle" fill="#2b2b2b">Trans</text>
<text x="393.30" y="451.30" font-size="10.4" text-anchor="middle" fill="#2b2b2b">IgM</text>
<text x="393.40" y="463.50" font-size="10.2" text-anchor="middle" fill="#2b2b2b">Naive</text>
<text x="441.10" y="450.00" font-size="8.7" text-anchor="middle" fill="#2b2b2b">IgM</text>
<text x="475.40" y="450.00" font-size="8.7" text-anchor="middle" fill="#2b2b2b">IgG</text>
<text x="509.20" y="450.00" font-size="8.7" text-anchor="middle" fill="#2b2b2b">IgA</text>
<text x="471.80" y="465.30" font-size="10.6" text-anchor="middle" fill="#2b2b2b">Memory</text>
<text x="546.2" y="258.6" font-size="15" font-weight="bold" fill="#1a1a1a" stroke="#1a1a1a" stroke-width="0.45">d</text>
<text x="622.20" y="259.30" font-size="9.9" text-anchor="middle" fill="#2b2b2b">CD10<tspan font-size="6.5" dy="-3.8">+</tspan><tspan dy="3.8">CD20</tspan><tspan font-size="7" dy="-3.8">dim</tspan><tspan dy="3.8"> HSPC-</tspan></text>
<text x="622.40" y="271.50" font-size="10.55" text-anchor="middle" fill="#2b2b2b">derived B cell progenitors</text>
<line x1="601.50" y1="293.30" x2="601.50" y2="435.30" stroke="#868686" stroke-width="1"/>
<line x1="597.90" y1="427.60" x2="601.50" y2="427.60" stroke="#737373" stroke-width="1"/>
<text x="594.40" y="430.40" font-size="9.5" text-anchor="end" fill="#2b2b2b">10</text>
<line x1="597.90" y1="382.96" x2="601.50" y2="382.96" stroke="#737373" stroke-width="1"/>
<text x="594.40" y="385.76" font-size="9.5" text-anchor="end" fill="#2b2b2b">12</text>
<line x1="597.90" y1="338.32" x2="601.50" y2="338.32" stroke="#737373" stroke-width="1"/>
<text x="594.40" y="341.12" font-size="9.5" text-anchor="end" fill="#2b2b2b">14</text>
<line x1="597.90" y1="293.68" x2="601.50" y2="293.68" stroke="#737373" stroke-width="1"/>
<text x="594.40" y="296.48" font-size="9.5" text-anchor="end" fill="#2b2b2b">16</text>
<text x="576.40" y="364.20" font-size="10.45" text-anchor="middle" transform="rotate(-90 576.40 364.20)" fill="#2b2b2b">Mean CDR3 length (aa)</text>
<line x1="601.00" y1="435.30" x2="642.90" y2="435.30" stroke="#868686" stroke-width="1"/>
<line x1="613.20" y1="435.30" x2="613.20" y2="438.30" stroke="#737373" stroke-width="1"/>
<line x1="631.70" y1="435.30" x2="631.70" y2="438.30" stroke="#737373" stroke-width="1"/>
<rect x="605.80" y="333.30" width="14.80" height="6.50" fill="none" stroke="#7a7a7a" stroke-width="1"/>
<line x1="605.80" y1="336.60" x2="620.60" y2="336.60" stroke="#231f20" stroke-width="1.1"/>
<path d="M612.90 326.46 L616.10 331.90 L609.70 331.90 Z" fill="#231f20"/>
<path d="M612.90 330.26 L616.10 335.70 L609.70 335.70 Z" fill="#231f20"/>
<path d="M612.90 333.56 L616.10 339.00 L609.70 339.00 Z" fill="#231f20"/>
<path d="M612.90 341.56 L616.10 347.00 L609.70 347.00 Z" fill="#231f20"/>
<line x1="631.60" y1="379.00" x2="631.60" y2="397.70" stroke="#7a7a7a" stroke-width="1"/>
<rect x="624.50" y="350.40" width="15.10" height="28.60" fill="none" stroke="#7a7a7a" stroke-width="1"/>
<line x1="624.50" y1="361.70" x2="639.60" y2="361.70" stroke="#231f20" stroke-width="1.1"/>
<path d="M631.60 345.76 L634.80 351.20 L628.40 351.20 Z" fill="#e8342d"/>
<path d="M631.60 347.96 L634.80 353.40 L628.40 353.40 Z" fill="#e8342d"/>
<path d="M631.60 368.96 L634.80 374.40 L628.40 374.40 Z" fill="#e8342d"/>
<path d="M631.60 394.66 L634.80 400.10 L628.40 400.10 Z" fill="#e8342d"/>
<path d="M612.90 323.00 L612.90 315.60 L631.60 315.60 L631.60 336.60" fill="none" stroke="#7a7a7a" stroke-width="1"/>
<path d="M623.05 310.90 L623.05 308.40 M623.05 310.90 L625.43 310.13 M623.05 310.90 L624.52 312.92 M623.05 310.90 L621.58 312.92 M623.05 310.90 L620.67 310.13 " stroke="#2b2b2b" stroke-width="1.05" stroke-linecap="butt" fill="none"/>
<text x="619.00" y="448.50" font-size="9.3" text-anchor="end" transform="rotate(-45 619.00 448.50)" fill="#2b2b2b"><tspan font-style="italic">AAVS1</tspan><tspan font-size="6.6" dy="-3.6">KO</tspan></text>
<text x="638.10" y="449.20" font-size="9.8" text-anchor="end" transform="rotate(-45 638.10 449.20)" fill="#2b2b2b">CBL Ub<tspan font-size="7" dx="1.2" dy="-3.8">LOF</tspan></text>
<text x="-0.2" y="506.9" font-size="15" font-weight="bold" fill="#1a1a1a" stroke="#1a1a1a" stroke-width="0.45">e</text>
<line x1="31.50" y1="510.60" x2="31.50" y2="666.20" stroke="#868686" stroke-width="1"/>
<line x1="27.90" y1="665.70" x2="31.50" y2="665.70" stroke="#737373" stroke-width="1"/>
<text x="23.50" y="668.14" font-size="8.5" text-anchor="end" fill="#2b2b2b">0</text>
<line x1="27.90" y1="638.62" x2="31.50" y2="638.62" stroke="#737373" stroke-width="1"/>
<text x="23.50" y="641.06" font-size="8.5" text-anchor="end" fill="#2b2b2b">2</text>
<line x1="27.90" y1="611.54" x2="31.50" y2="611.54" stroke="#737373" stroke-width="1"/>
<text x="23.50" y="613.98" font-size="8.5" text-anchor="end" fill="#2b2b2b">4</text>
<line x1="27.90" y1="584.46" x2="31.50" y2="584.46" stroke="#737373" stroke-width="1"/>
<text x="23.50" y="586.90" font-size="8.5" text-anchor="end" fill="#2b2b2b">6</text>
<line x1="27.90" y1="557.38" x2="31.50" y2="557.38" stroke="#737373" stroke-width="1"/>
<text x="23.50" y="559.82" font-size="8.5" text-anchor="end" fill="#2b2b2b">8</text>
<line x1="27.90" y1="530.30" x2="31.50" y2="530.30" stroke="#737373" stroke-width="1"/>
<text x="23.50" y="532.74" font-size="8.5" text-anchor="end" fill="#2b2b2b">10</text>
<text x="8.80" y="587.80" font-size="10.5" text-anchor="middle" transform="rotate(-90 8.80 587.80)" fill="#2b2b2b">Percent SHM (mean)</text>
<line x1="27.90" y1="666.20" x2="283.60" y2="666.20" stroke="#868686" stroke-width="1"/>
<line x1="51.40" y1="666.20" x2="51.40" y2="669.20" stroke="#737373" stroke-width="1"/>
<line x1="83.40" y1="666.20" x2="83.40" y2="669.20" stroke="#737373" stroke-width="1"/>
<line x1="119.70" y1="666.20" x2="119.70" y2="669.20" stroke="#737373" stroke-width="1"/>
<line x1="157.50" y1="666.20" x2="157.50" y2="669.20" stroke="#737373" stroke-width="1"/>
<line x1="191.30" y1="666.20" x2="191.30" y2="669.20" stroke="#737373" stroke-width="1"/>
<line x1="227.30" y1="666.20" x2="227.30" y2="669.20" stroke="#737373" stroke-width="1"/>
<line x1="261.40" y1="666.20" x2="261.40" y2="669.20" stroke="#737373" stroke-width="1"/>
<line x1="42.50" y1="606.60" x2="50.60" y2="606.60" stroke="#231f20" stroke-width="1.1"/>
<circle cx="42.30" cy="598.00" r="3.5" fill="#231f20"/>
<circle cx="40.40" cy="606.30" r="3.5" fill="#231f20"/>
<circle cx="44.00" cy="607.30" r="3.5" fill="#231f20"/>
<circle cx="44.30" cy="612.60" r="3.5" fill="#231f20"/>
<rect x="51.20" y="630.10" width="13.20" height="5.10" fill="none" stroke="#7a7a7a" stroke-width="1"/>
<line x1="51.20" y1="632.90" x2="64.40" y2="632.90" stroke="#231f20" stroke-width="1.1"/>
<circle cx="61.20" cy="625.50" r="3.5" fill="#e8342d"/>
<circle cx="58.50" cy="633.20" r="3.5" fill="#e8342d"/>
<circle cx="58.50" cy="637.60" r="3.5" fill="#e8342d"/>
<rect x="71.40" y="571.40" width="11.70" height="7.80" fill="none" stroke="#7a7a7a" stroke-width="1"/>
<line x1="71.40" y1="577.80" x2="83.10" y2="577.80" stroke="#231f20" stroke-width="1.1"/>
<circle cx="76.10" cy="561.00" r="3.5" fill="#231f20"/>
<circle cx="76.10" cy="571.40" r="3.5" fill="#231f20"/>
<circle cx="76.10" cy="579.20" r="3.5" fill="#231f20"/>
<circle cx="76.10" cy="587.30" r="3.5" fill="#231f20"/>
<rect x="84.00" y="588.40" width="12.60" height="6.20" fill="none" stroke="#7a7a7a" stroke-width="1"/>
<line x1="84.00" y1="591.50" x2="96.60" y2="591.50" stroke="#231f20" stroke-width="1.1"/>
<circle cx="90.10" cy="585.10" r="3.5" fill="#e8342d"/>
<circle cx="90.10" cy="597.70" r="3.5" fill="#e8342d"/>
<rect x="105.80" y="572.20" width="12.30" height="6.20" fill="none" stroke="#7a7a7a" stroke-width="1"/>
<line x1="105.80" y1="575.00" x2="118.10" y2="575.00" stroke="#231f20" stroke-width="1.1"/>
<circle cx="110.60" cy="556.50" r="3.5" fill="#231f20"/>
<circle cx="110.60" cy="572.20" r="3.5" fill="#231f20"/>
<circle cx="110.60" cy="578.40" r="3.5" fill="#231f20"/>
<circle cx="110.60" cy="587.90" r="3.5" fill="#231f20"/>
<rect x="119.80" y="589.60" width="12.30" height="7.80" fill="none" stroke="#7a7a7a" stroke-width="1"/>
<line x1="119.80" y1="593.20" x2="132.10" y2="593.20" stroke="#231f20" stroke-width="1.1"/>
<circle cx="127.30" cy="585.40" r="3.5" fill="#e8342d"/>
<circle cx="127.30" cy="601.30" r="3.5" fill="#e8342d"/>
<rect x="144.00" y="570.50" width="12.60" height="14.80" fill="none" stroke="#7a7a7a" stroke-width="1"/>
<line x1="144.00" y1="576.10" x2="156.60" y2="576.10" stroke="#231f20" stroke-width="1.1"/>
<circle cx="148.50" cy="561.50" r="3.5" fill="#231f20"/>
<circle cx="149.60" cy="569.90" r="3.5" fill="#231f20"/>
<circle cx="148.50" cy="576.10" r="3.5" fill="#231f20"/>
<circle cx="148.50" cy="585.30" r="3.5" fill="#231f20"/>
<circle cx="148.50" cy="609.70" r="3.5" fill="#231f20"/>
<rect x="158.00" y="589.00" width="12.60" height="4.10" fill="none" stroke="#7a7a7a" stroke-width="1"/>
<line x1="158.00" y1="590.90" x2="170.60" y2="590.90" stroke="#231f20" stroke-width="1.1"/>
<circle cx="165.00" cy="586.70" r="3.5" fill="#e8342d"/>
<circle cx="165.00" cy="595.70" r="3.5" fill="#e8342d"/>
<line x1="181.70" y1="574.70" x2="190.10" y2="574.70" stroke="#231f20" stroke-width="1.1"/>
<circle cx="181.70" cy="574.70" r="3.5" fill="#231f20"/>
<rect x="191.50" y="580.60" width="13.20" height="14.50" fill="none" stroke="#7a7a7a" stroke-width="1"/>
<line x1="191.50" y1="587.30" x2="204.70" y2="587.30" stroke="#231f20" stroke-width="1.1"/>
<circle cx="198.50" cy="572.70" r="3.5" fill="#e8342d"/>
<circle cx="198.50" cy="602.90" r="3.5" fill="#e8342d"/>
<rect x="214.50" y="570.50" width="12.60" height="5.60" fill="none" stroke="#7a7a7a" stroke-width="1"/>
<line x1="214.50" y1="573.30" x2="227.10" y2="573.30" stroke="#231f20" stroke-width="1.1"/>
<circle cx="219.00" cy="528.00" r="3.5" fill="#231f20"/>
<circle cx="219.00" cy="569.40" r="3.5" fill="#231f20"/>
<circle cx="219.00" cy="573.30" r="3.5" fill="#231f20"/>
<circle cx="219.00" cy="576.10" r="3.5" fill="#231f20"/>
<circle cx="219.00" cy="584.50" r="3.5" fill="#231f20"/>
<line x1="227.90" y1="598.50" x2="240.50" y2="598.50" stroke="#231f20" stroke-width="1.1"/>
<circle cx="234.50" cy="598.50" r="3.5" fill="#e8342d"/>
<circle cx="236.50" cy="598.50" r="3.5" fill="#e8342d"/>
<rect x="248.30" y="575.00" width="12.60" height="11.70" fill="none" stroke="#7a7a7a" stroke-width="1"/>
<line x1="248.30" y1="586.70" x2="260.90" y2="586.70" stroke="#231f20" stroke-width="1.1"/>
<circle cx="254.20" cy="555.10" r="3.5" fill="#231f20"/>
<circle cx="254.20" cy="575.00" r="3.5" fill="#231f20"/>
<circle cx="254.20" cy="586.70" r="3.5" fill="#231f20"/>
<circle cx="254.20" cy="611.30" r="3.5" fill="#231f20"/>
<rect x="262.30" y="602.10" width="12.60" height="5.00" fill="none" stroke="#7a7a7a" stroke-width="1"/>
<line x1="262.30" y1="604.30" x2="274.90" y2="604.30" stroke="#231f20" stroke-width="1.1"/>
<circle cx="269.00" cy="598.50" r="3.5" fill="#e8342d"/>
<circle cx="269.00" cy="609.90" r="3.5" fill="#e8342d"/>
<path d="M43.40 590.60 L43.40 586.20 L57.90 586.20 L57.90 618.00" fill="none" stroke="#7a7a7a" stroke-width="1"/>
<path d="M51.45 581.50 L51.45 579.00 M51.45 581.50 L53.83 580.73 M51.45 581.50 L52.92 583.52 M51.45 581.50 L49.98 583.52 M51.45 581.50 L49.07 580.73 " stroke="#2b2b2b" stroke-width="1.05" stroke-linecap="butt" fill="none"/>
<circle cx="42.0" cy="513.2" r="3.6" fill="#231f20"/>
<circle cx="42.0" cy="527.1" r="3.6" fill="#e8342d"/>
<text x="49.80" y="516.15" font-size="8.2" text-anchor="start" fill="#2b2b2b">HD</text>
<text x="49.80" y="530.05" font-size="8.2" text-anchor="start" fill="#2b2b2b">CBL</text>
<text x="51.10" y="681.40" font-size="9.1" text-anchor="middle" fill="#2b2b2b">IgM</text>
<text x="86.18" y="681.40" font-size="9.1" text-anchor="middle" fill="#2b2b2b">IgG1</text>
<text x="121.26" y="681.40" font-size="9.1" text-anchor="middle" fill="#2b2b2b">IgG2</text>
<text x="156.34" y="681.40" font-size="9.1" text-anchor="middle" fill="#2b2b2b">IgG3</text>
<text x="191.42" y="681.40" font-size="9.1" text-anchor="middle" fill="#2b2b2b">IgG4</text>
<text x="226.50" y="681.40" font-size="9.1" text-anchor="middle" fill="#2b2b2b">IgA1</text>
<text x="261.58" y="681.40" font-size="9.1" text-anchor="middle" fill="#2b2b2b">IgA2</text>
<text x="157.70" y="697.50" font-size="10.5" text-anchor="middle" fill="#2b2b2b">Memory</text>
<text x="290.6" y="506.7" font-size="15" font-weight="bold" fill="#1a1a1a" stroke="#1a1a1a" stroke-width="0.45">f</text>
<line x1="326.50" y1="509.60" x2="326.50" y2="666.00" stroke="#868686" stroke-width="1"/>
<line x1="322.90" y1="664.40" x2="326.50" y2="664.40" stroke="#737373" stroke-width="1"/>
<text x="318.60" y="667.38" font-size="10.0" text-anchor="end" fill="#2b2b2b">0</text>
<line x1="322.90" y1="634.34" x2="326.50" y2="634.34" stroke="#737373" stroke-width="1"/>
<text x="318.60" y="637.32" font-size="10.0" text-anchor="end" fill="#2b2b2b">10</text>
<line x1="322.90" y1="604.28" x2="326.50" y2="604.28" stroke="#737373" stroke-width="1"/>
<text x="318.60" y="607.26" font-size="10.0" text-anchor="end" fill="#2b2b2b">20</text>
<line x1="322.90" y1="574.22" x2="326.50" y2="574.22" stroke="#737373" stroke-width="1"/>
<text x="318.60" y="577.20" font-size="10.0" text-anchor="end" fill="#2b2b2b">30</text>
<line x1="322.90" y1="544.16" x2="326.50" y2="544.16" stroke="#737373" stroke-width="1"/>
<text x="318.60" y="547.14" font-size="10.0" text-anchor="end" fill="#2b2b2b">40</text>
<line x1="322.90" y1="514.10" x2="326.50" y2="514.10" stroke="#737373" stroke-width="1"/>
<text x="318.60" y="517.08" font-size="10.0" text-anchor="end" fill="#2b2b2b">50</text>
<text x="299.60" y="587.80" font-size="10.7" text-anchor="middle" transform="rotate(-90 299.60 587.80)" fill="#2b2b2b">Percentage of clones</text>
<line x1="326.00" y1="666.00" x2="518.20" y2="666.00" stroke="#868686" stroke-width="1"/>
<line x1="348.60" y1="666.00" x2="348.60" y2="669.00" stroke="#737373" stroke-width="1"/>
<line x1="385.60" y1="666.00" x2="385.60" y2="669.00" stroke="#737373" stroke-width="1"/>
<line x1="422.60" y1="666.00" x2="422.60" y2="669.00" stroke="#737373" stroke-width="1"/>
<line x1="459.90" y1="666.00" x2="459.90" y2="669.00" stroke="#737373" stroke-width="1"/>
<line x1="496.90" y1="666.00" x2="496.90" y2="669.00" stroke="#737373" stroke-width="1"/>
<rect x="334.50" y="642.10" width="14.10" height="11.40" fill="none" stroke="#7a7a7a" stroke-width="1"/>
<line x1="334.50" y1="652.70" x2="348.60" y2="652.70" stroke="#231f20" stroke-width="1.1"/>
<circle cx="341.10" cy="639.60" r="3.5" fill="#231f20"/>
<circle cx="342.00" cy="641.40" r="3.5" fill="#231f20"/>
<circle cx="341.10" cy="652.70" r="3.5" fill="#231f20"/>
<circle cx="341.60" cy="656.00" r="3.5" fill="#231f20"/>
<line x1="354.90" y1="577.50" x2="354.90" y2="591.30" stroke="#7a7a7a" stroke-width="1"/>
<line x1="354.90" y1="612.50" x2="354.90" y2="620.30" stroke="#7a7a7a" stroke-width="1"/>
<rect x="349.60" y="591.30" width="13.90" height="21.20" fill="none" stroke="#7a7a7a" stroke-width="1"/>
<line x1="349.60" y1="604.90" x2="363.50" y2="604.90" stroke="#231f20" stroke-width="1.1"/>
<circle cx="354.90" cy="577.50" r="3.5" fill="#e8342d"/>
<circle cx="354.90" cy="604.90" r="3.5" fill="#e8342d"/>
<circle cx="354.90" cy="620.30" r="3.5" fill="#e8342d"/>
<rect x="371.80" y="611.20" width="13.80" height="12.10" fill="none" stroke="#7a7a7a" stroke-width="1"/>
<line x1="371.80" y1="621.50" x2="385.60" y2="621.50" stroke="#231f20" stroke-width="1.1"/>
<circle cx="378.00" cy="608.70" r="3.5" fill="#231f20"/>
<circle cx="378.00" cy="610.70" r="3.5" fill="#231f20"/>
<circle cx="378.00" cy="622.80" r="3.5" fill="#231f20"/>
<circle cx="378.00" cy="632.80" r="3.5" fill="#231f20"/>
<line x1="393.10" y1="542.30" x2="393.10" y2="554.10" stroke="#7a7a7a" stroke-width="1"/>
<line x1="393.10" y1="573.50" x2="393.10" y2="581.80" stroke="#7a7a7a" stroke-width="1"/>
<rect x="386.40" y="554.10" width="14.30" height="19.40" fill="none" stroke="#7a7a7a" stroke-width="1"/>
<line x1="386.40" y1="565.40" x2="400.70" y2="565.40" stroke="#231f20" stroke-width="1.1"/>
<circle cx="393.10" cy="542.30" r="3.5" fill="#e8342d"/>
<circle cx="393.10" cy="565.40" r="3.5" fill="#e8342d"/>
<circle cx="393.10" cy="581.80" r="3.5" fill="#e8342d"/>
<rect x="408.80" y="525.20" width="13.80" height="32.70" fill="none" stroke="#7a7a7a" stroke-width="1"/>
<line x1="408.80" y1="525.70" x2="422.60" y2="525.70" stroke="#231f20" stroke-width="1.1"/>
<circle cx="415.60" cy="518.10" r="3.5" fill="#231f20"/>
<circle cx="415.60" cy="525.20" r="3.5" fill="#231f20"/>
<circle cx="415.60" cy="526.40" r="3.5" fill="#231f20"/>
<circle cx="415.60" cy="557.40" r="3.5" fill="#231f20"/>
<circle cx="415.60" cy="561.60" r="3.5" fill="#231f20"/>
<line x1="430.20" y1="554.80" x2="430.20" y2="567.90" stroke="#7a7a7a" stroke-width="1"/>
<line x1="430.20" y1="586.30" x2="430.20" y2="591.80" stroke="#7a7a7a" stroke-width="1"/>
<rect x="423.90" y="567.90" width="13.80" height="18.40" fill="none" stroke="#7a7a7a" stroke-width="1"/>
<line x1="423.90" y1="580.50" x2="437.70" y2="580.50" stroke="#231f20" stroke-width="1.1"/>
<circle cx="430.20" cy="554.80" r="3.5" fill="#e8342d"/>
<circle cx="430.20" cy="580.50" r="3.5" fill="#e8342d"/>
<circle cx="430.20" cy="591.80" r="3.5" fill="#e8342d"/>
<rect x="445.80" y="586.00" width="13.80" height="6.60" fill="none" stroke="#7a7a7a" stroke-width="1"/>
<line x1="445.80" y1="590.10" x2="459.60" y2="590.10" stroke="#231f20" stroke-width="1.1"/>
<circle cx="452.10" cy="573.00" r="3.5" fill="#231f20"/>
<circle cx="452.10" cy="585.50" r="3.5" fill="#231f20"/>
<circle cx="452.10" cy="590.60" r="3.5" fill="#231f20"/>
<circle cx="452.10" cy="592.60" r="3.5" fill="#231f20"/>
<circle cx="452.10" cy="598.90" r="3.5" fill="#231f20"/>
<line x1="466.70" y1="608.20" x2="466.70" y2="618.20" stroke="#7a7a7a" stroke-width="1"/>
<line x1="466.70" y1="638.90" x2="466.70" y2="650.20" stroke="#7a7a7a" stroke-width="1"/>
<rect x="460.40" y="618.20" width="13.80" height="20.70" fill="none" stroke="#7a7a7a" stroke-width="1"/>
<line x1="460.40" y1="628.30" x2="474.20" y2="628.30" stroke="#231f20" stroke-width="1.1"/>
<circle cx="466.70" cy="608.20" r="3.5" fill="#e8342d"/>
<circle cx="466.70" cy="628.30" r="3.5" fill="#e8342d"/>
<circle cx="466.70" cy="650.20" r="3.5" fill="#e8342d"/>
<line x1="488.80" y1="602.40" x2="488.80" y2="617.70" stroke="#7a7a7a" stroke-width="1"/>
<line x1="488.80" y1="639.60" x2="488.80" y2="643.40" stroke="#7a7a7a" stroke-width="1"/>
<rect x="482.50" y="617.70" width="13.90" height="21.90" fill="none" stroke="#7a7a7a" stroke-width="1"/>
<line x1="482.50" y1="624.00" x2="496.40" y2="624.00" stroke="#231f20" stroke-width="1.1"/>
<circle cx="488.80" cy="602.40" r="3.5" fill="#231f20"/>
<circle cx="488.80" cy="617.70" r="3.5" fill="#231f20"/>
<circle cx="488.80" cy="624.00" r="3.5" fill="#231f20"/>
<circle cx="488.80" cy="639.60" r="3.5" fill="#231f20"/>
<circle cx="488.80" cy="643.40" r="3.5" fill="#231f20"/>
<rect x="497.60" y="648.40" width="13.80" height="6.30" fill="none" stroke="#7a7a7a" stroke-width="1"/>
<line x1="497.60" y1="650.90" x2="511.40" y2="650.90" stroke="#231f20" stroke-width="1.1"/>
<circle cx="504.70" cy="645.20" r="3.5" fill="#e8342d"/>
<circle cx="504.70" cy="651.70" r="3.5" fill="#e8342d"/>
<circle cx="504.70" cy="658.00" r="3.5" fill="#e8342d"/>
<path d="M341.60 624.50 L341.60 563.60 L356.70 563.60 L356.70 567.90" fill="none" stroke="#7a7a7a" stroke-width="1"/>
<path d="M349.95 558.90 L349.95 556.40 M349.95 558.90 L352.33 558.13 M349.95 558.90 L351.42 560.92 M349.95 558.90 L348.48 560.92 M349.95 558.90 L347.57 558.13 " stroke="#2b2b2b" stroke-width="1.05" stroke-linecap="butt" fill="none"/>
<path d="M378.00 598.10 L378.00 527.70 L393.10 527.70 L393.10 532.20" fill="none" stroke="#7a7a7a" stroke-width="1"/>
<path d="M386.35 523.00 L386.35 520.50 M386.35 523.00 L388.73 522.23 M386.35 523.00 L387.82 525.02 M386.35 523.00 L384.88 525.02 M386.35 523.00 L383.97 522.23 " stroke="#2b2b2b" stroke-width="1.05" stroke-linecap="butt" fill="none"/>
<path d="M452.30 562.90 L452.30 558.40 L467.40 558.40 L467.40 598.60" fill="none" stroke="#7a7a7a" stroke-width="1"/>
<path d="M460.65 553.70 L460.65 551.20 M460.65 553.70 L463.03 552.93 M460.65 553.70 L462.12 555.72 M460.65 553.70 L459.18 555.72 M460.65 553.70 L458.27 552.93 " stroke="#2b2b2b" stroke-width="1.05" stroke-linecap="butt" fill="none"/>
<path d="M489.30 595.60 L489.30 590.60 L504.40 590.60 L504.40 642.10" fill="none" stroke="#7a7a7a" stroke-width="1"/>
<path d="M497.65 585.90 L497.65 583.40 M497.65 585.90 L500.03 585.13 M497.65 585.90 L499.12 587.92 M497.65 585.90 L496.18 587.92 M497.65 585.90 L495.27 585.13 " stroke="#2b2b2b" stroke-width="1.05" stroke-linecap="butt" fill="none"/>
<circle cx="483.0" cy="513.8" r="3.6" fill="#231f20"/>
<circle cx="483.0" cy="527.2" r="3.6" fill="#e8342d"/>
<text x="490.60" y="516.75" font-size="8.2" text-anchor="start" fill="#2b2b2b">HD</text>
<text x="490.60" y="530.15" font-size="8.2" text-anchor="start" fill="#2b2b2b">CBL</text>
<text x="354.80" y="679.60" font-size="9.8" text-anchor="end" transform="rotate(-45 354.80 679.60)" fill="#2b2b2b">&lt;1</text>
<text x="391.80" y="679.60" font-size="9.8" text-anchor="end" transform="rotate(-45 391.80 679.60)" fill="#2b2b2b">1–2.5</text>
<text x="428.80" y="679.60" font-size="9.8" text-anchor="end" transform="rotate(-45 428.80 679.60)" fill="#2b2b2b">2.5–5</text>
<text x="466.10" y="679.60" font-size="9.8" text-anchor="end" transform="rotate(-45 466.10 679.60)" fill="#2b2b2b">5–7.5</text>
<text x="503.10" y="679.60" font-size="9.8" text-anchor="end" transform="rotate(-45 503.10 679.60)" fill="#2b2b2b">&gt;7.5</text>
<text x="422.90" y="712.00" font-size="10.2" text-anchor="middle" fill="#2b2b2b">SHM % (IgM, memory)</text>
<text x="541.9" y="506.9" font-size="15" font-weight="bold" fill="#1a1a1a" stroke="#1a1a1a" stroke-width="0.45">g</text>
<line x1="573.50" y1="507.00" x2="573.50" y2="667.00" stroke="#868686" stroke-width="1"/>
<line x1="569.90" y1="659.60" x2="573.50" y2="659.60" stroke="#737373" stroke-width="1"/>
<text x="565.30" y="662.40" font-size="9.5" text-anchor="end" fill="#2b2b2b">0</text>
<line x1="569.90" y1="630.54" x2="573.50" y2="630.54" stroke="#737373" stroke-width="1"/>
<text x="565.30" y="633.34" font-size="9.5" text-anchor="end" fill="#2b2b2b">1</text>
<line x1="569.90" y1="601.48" x2="573.50" y2="601.48" stroke="#737373" stroke-width="1"/>
<text x="565.30" y="604.28" font-size="9.5" text-anchor="end" fill="#2b2b2b">2</text>
<line x1="569.90" y1="572.42" x2="573.50" y2="572.42" stroke="#737373" stroke-width="1"/>
<text x="565.30" y="575.22" font-size="9.5" text-anchor="end" fill="#2b2b2b">3</text>
<line x1="569.90" y1="543.36" x2="573.50" y2="543.36" stroke="#737373" stroke-width="1"/>
<text x="565.30" y="546.16" font-size="9.5" text-anchor="end" fill="#2b2b2b">4</text>
<line x1="569.90" y1="514.30" x2="573.50" y2="514.30" stroke="#737373" stroke-width="1"/>
<text x="565.30" y="517.10" font-size="9.5" text-anchor="end" fill="#2b2b2b">5</text>
<text x="551.00" y="587.40" font-size="10.2" text-anchor="middle" transform="rotate(-90 551.00 587.40)" fill="#2b2b2b">CDR R:S ratio (mean)</text>
<line x1="573.00" y1="667.00" x2="683.00" y2="667.00" stroke="#868686" stroke-width="1"/>
<line x1="594.20" y1="667.00" x2="594.20" y2="670.00" stroke="#737373" stroke-width="1"/>
<line x1="629.20" y1="667.00" x2="629.20" y2="670.00" stroke="#737373" stroke-width="1"/>
<line x1="664.50" y1="667.00" x2="664.50" y2="670.00" stroke="#737373" stroke-width="1"/>
<rect x="580.40" y="567.20" width="13.80" height="13.00" fill="none" stroke="#7a7a7a" stroke-width="1"/>
<line x1="580.40" y1="567.20" x2="594.20" y2="567.20" stroke="#231f20" stroke-width="1.1"/>
<circle cx="587.60" cy="564.50" r="3.5" fill="#231f20"/>
<circle cx="588.50" cy="567.20" r="3.5" fill="#231f20"/>
<circle cx="586.00" cy="580.20" r="3.5" fill="#231f20"/>
<circle cx="589.00" cy="581.50" r="3.5" fill="#231f20"/>
<line x1="601.60" y1="610.20" x2="601.60" y2="617.60" stroke="#7a7a7a" stroke-width="1"/>
<rect x="595.00" y="602.20" width="13.30" height="8.00" fill="none" stroke="#7a7a7a" stroke-width="1"/>
<line x1="595.00" y1="602.70" x2="608.30" y2="602.70" stroke="#231f20" stroke-width="1.1"/>
<circle cx="600.00" cy="602.20" r="3.5" fill="#e8342d"/>
<circle cx="603.00" cy="601.70" r="3.5" fill="#e8342d"/>
<circle cx="601.60" cy="617.60" r="3.5" fill="#e8342d"/>
<line x1="616.00" y1="545.90" x2="628.70" y2="545.90" stroke="#231f20" stroke-width="1.1"/>
<circle cx="621.30" cy="537.70" r="3.5" fill="#231f20"/>
<circle cx="621.30" cy="545.90" r="3.5" fill="#231f20"/>
<circle cx="622.50" cy="547.00" r="3.5" fill="#231f20"/>
<circle cx="621.30" cy="586.80" r="3.5" fill="#231f20"/>
<line x1="636.10" y1="551.00" x2="636.10" y2="559.20" stroke="#7a7a7a" stroke-width="1"/>
<line x1="636.10" y1="573.80" x2="636.10" y2="579.60" stroke="#7a7a7a" stroke-width="1"/>
<rect x="629.50" y="559.20" width="13.30" height="14.60" fill="none" stroke="#7a7a7a" stroke-width="1"/>
<line x1="629.50" y1="567.70" x2="642.80" y2="567.70" stroke="#231f20" stroke-width="1.1"/>
<circle cx="636.10" cy="551.00" r="3.5" fill="#e8342d"/>
<circle cx="636.10" cy="567.70" r="3.5" fill="#e8342d"/>
<circle cx="636.10" cy="579.60" r="3.5" fill="#e8342d"/>
<rect x="650.50" y="550.40" width="13.30" height="12.80" fill="none" stroke="#7a7a7a" stroke-width="1"/>
<line x1="650.50" y1="556.50" x2="663.80" y2="556.50" stroke="#231f20" stroke-width="1.1"/>
<circle cx="656.60" cy="525.70" r="3.5" fill="#231f20"/>
<circle cx="656.60" cy="550.40" r="3.5" fill="#231f20"/>
<circle cx="656.60" cy="557.10" r="3.5" fill="#231f20"/>
<circle cx="656.60" cy="562.90" r="3.5" fill="#231f20"/>
<circle cx="656.60" cy="570.30" r="3.5" fill="#231f20"/>
<rect x="664.50" y="565.00" width="13.30" height="4.60" fill="none" stroke="#7a7a7a" stroke-width="1"/>
<line x1="664.50" y1="567.20" x2="677.80" y2="567.20" stroke="#231f20" stroke-width="1.1"/>
<circle cx="671.20" cy="562.90" r="3.5" fill="#e8342d"/>
<circle cx="671.20" cy="571.70" r="3.5" fill="#e8342d"/>
<path d="M588.90 554.40 L588.90 550.40 L601.40 550.40 L601.40 594.20" fill="none" stroke="#7a7a7a" stroke-width="1"/>
<path d="M595.95 545.70 L595.95 543.20 M595.95 545.70 L598.33 544.93 M595.95 545.70 L597.42 547.72 M595.95 545.70 L594.48 547.72 M595.95 545.70 L593.57 544.93 " stroke="#2b2b2b" stroke-width="1.05" stroke-linecap="butt" fill="none"/>
<circle cx="654.3" cy="622.1" r="3.6" fill="#231f20"/>
<circle cx="654.3" cy="635.9" r="3.6" fill="#e8342d"/>
<text x="661.90" y="625.05" font-size="8.2" text-anchor="start" fill="#2b2b2b">HD</text>
<text x="661.90" y="638.85" font-size="8.2" text-anchor="start" fill="#2b2b2b">CBL</text>
<text x="594.20" y="683.20" font-size="10.4" text-anchor="middle" fill="#2b2b2b">IgM</text>
<text x="629.20" y="683.20" font-size="10.4" text-anchor="middle" fill="#2b2b2b">IgG</text>
<text x="664.50" y="683.20" font-size="10.4" text-anchor="middle" fill="#2b2b2b">IgA</text>
</svg>
</body></html>
